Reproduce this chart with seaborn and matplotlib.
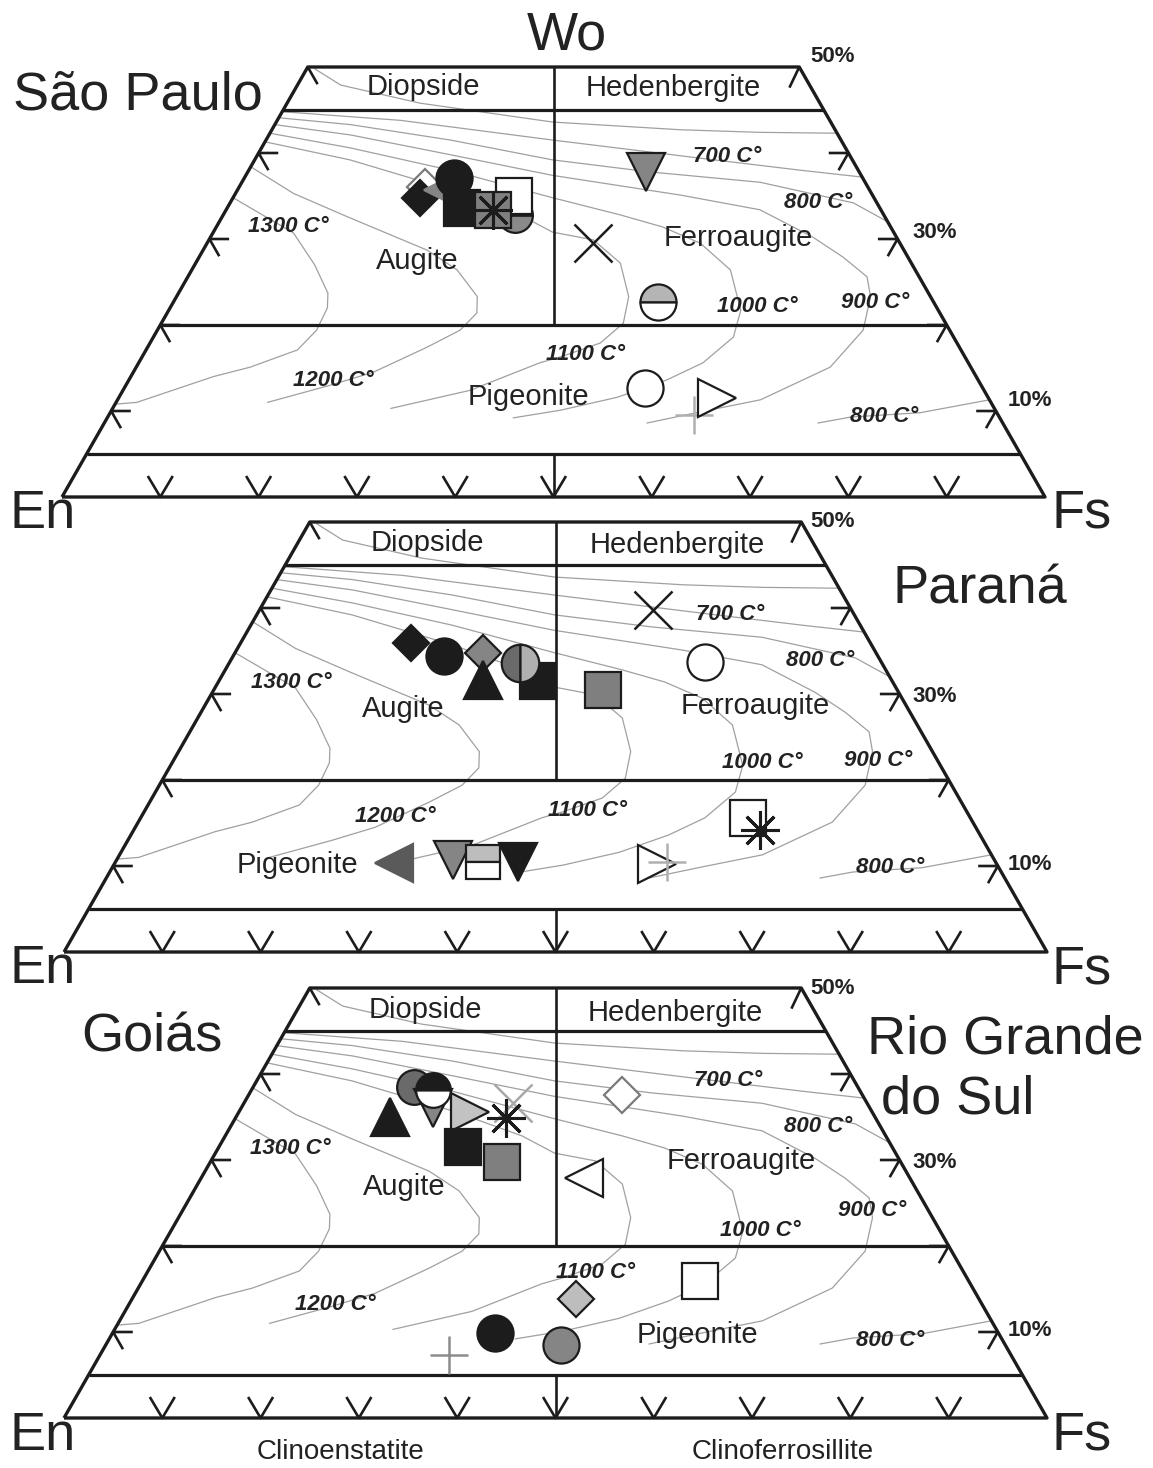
import matplotlib
matplotlib.use("Agg")
import matplotlib.pyplot as plt
import pandas as pd
import seaborn as sns

sns.set_theme(style="white")
plt.rcParams["font.family"] = ["Liberation Sans", "DejaVu Sans"]

# ---- isotherm template (Wo %, Fs %) ----
ISO_600_WO = [49.8, 47.9, 45.8, 43.6, 42.7, 42.4, 42.3]
ISO_600_FS = [0.8, 4.4, 13.5, 28.1, 41.6, 49.8, 57.7]
ISO_700_WO = [44.8, 43.8, 41.5, 39.4, 38.0, 37.2]
ISO_700_FS = [0.0, 12.5, 29.2, 45.2, 56.1, 62.8]
ISO_800A_WO = [44.1, 43.3, 41.5, 39.2, 37.8, 36.6, 34.2, 32.0]
ISO_800A_FS = [0.0, 7.7, 18.8, 30.3, 40.9, 52.7, 63.4, 68.0]
ISO_800B_WO = [8.6, 9.3, 9.8, 11.3]
ISO_800B_FS = [72.6, 75.6, 82.4, 88.7]
ISO_900_WO = [43.3, 42.1, 39.8, 37.4, 35.1, 33.4, 30.2, 27.9, 25.6, 23.3, 19.4, 15.1, 11.3, 9.9, 8.6]
ISO_900_FS = [0.0, 8.3, 19.6, 31.2, 45.4, 54.3, 61.3, 65.5, 69.1, 70.6, 71.8, 70.6, 65.4, 60.0, 55.2]
ISO_1000_WO = [42.3, 40.6, 38.0, 34.8, 32.8, 31.4, 29.5, 26.4, 21.7, 18.6, 15.6, 13.6, 11.6, 10.1, 9.2]
ISO_1000_FS = [0.0, 9.0, 20.5, 32.5, 40.4, 45.4, 50.2, 54.8, 58.2, 59.0, 57.4, 54.7, 50.7, 45.7, 41.3]
ISO_1100_WO = [41.3, 39.2, 35.7, 32.8, 30.8, 29.9, 27.2, 23.3, 20.2, 17.9, 16.3, 15.6, 12.4, 10.3]
ISO_1100_FS = [0.0, 9.7, 21.7, 30.2, 34.5, 39.1, 43.2, 46.0, 47.0, 45.8, 42.6, 40.8, 35.3, 28.3]
ISO_1200_WO = [38.4, 35.3, 32.6, 28.7, 26.4, 23.3, 21.4, 19.4, 17.4, 14.5, 13.0, 11.0]
ISO_1200_FS = [0.0, 5.9, 12.7, 22.8, 27.0, 30.6, 31.5, 30.8, 28.4, 24.4, 20.8, 15.4]
ISO_1300_WO = [34.8, 30.7, 27.0, 23.7, 22.0, 19.4, 17.1, 15.1, 14.0, 11.0, 10.8]
ISO_1300_FS = [0.0, 8.2, 12.2, 15.2, 16.0, 16.2, 15.4, 11.6, 8.4, 2.1, 0.0]

# ---- pyroxene analyses per state (symbol, Wo %, Fs %) ----
SP_SYMBOLS = ["dia_open", "dia_black", "tri_left_gray", "circ_black", "sq_black",
              "circ_half_bot", "sq_open", "sq_gray", "asterisk", "tri_down_gray",
              "x_black", "circ_half_top_lgray", "circ_open", "plus_lgray", "tri_right_open"]
SP_WO = [36.0, 34.8, 35.7, 37.1, 33.6, 32.8, 35.0, 33.4, 33.4, 37.8, 29.5, 22.7, 12.7, 9.5, 11.5]
SP_FS = [18.9, 19.0, 20.8, 21.3, 23.9, 29.7, 28.5, 27.1, 27.1, 40.5, 39.3, 49.3, 53.0, 59.5, 60.9]

PR_SYMBOLS = ["dia_black", "circ_black", "dia_gray", "tri_up_black", "sq_black",
              "circ_half_left", "sq_gray", "x_black", "circ_open", "sq_open", "asterisk",
              "tri_right_open", "plus_lgray", "tri_left_dgray", "tri_down_gray",
              "sq_half_top", "tri_down_black"]
PR_WO = [35.9, 34.4, 34.8, 31.6, 31.5, 33.6, 30.5, 39.8, 33.7, 15.6, 14.2,
         10.2, 10.5, 10.3, 10.7, 10.5, 10.5]
PR_FS = [17.3, 21.5, 25.2, 26.8, 32.5, 29.6, 39.6, 40.0, 48.4, 61.8, 63.7,
         55.2, 56.1, 28.4, 34.2, 37.4, 40.9]

GO_SYMBOLS = ["tri_up_black", "circ_dgray", "tri_down_gray", "circ_half_top_black",
              "tri_right_lgray", "x_lgray", "asterisk", "sq_black", "sq_gray",
              "dia_open", "tri_left_open", "sq_open", "dia_lgray", "circ_black",
              "circ_gray", "plus_gray"]
GO_WO = [35.0, 38.5, 36.0, 38.1, 35.6, 36.6, 34.9, 31.5, 29.8, 37.6, 27.9,
         15.9, 13.8, 9.9, 8.5, 7.3]
GO_FS = [15.7, 16.4, 19.5, 18.5, 23.5, 27.4, 27.5, 24.8, 29.7, 38.0, 38.9,
         56.7, 45.2, 38.9, 46.3, 35.5]

ISOTHERMS = {
    "600": (ISO_600_WO, ISO_600_FS), "700": (ISO_700_WO, ISO_700_FS),
    "800a": (ISO_800A_WO, ISO_800A_FS), "800b": (ISO_800B_WO, ISO_800B_FS),
    "900": (ISO_900_WO, ISO_900_FS), "1000": (ISO_1000_WO, ISO_1000_FS),
    "1100": (ISO_1100_WO, ISO_1100_FS), "1200": (ISO_1200_WO, ISO_1200_FS),
    "1300": (ISO_1300_WO, ISO_1300_FS),
}

BLACK = "#1c1c1c"
STYLES = {
    "dia_open": dict(marker="D", ms=18, mfc="white", mec="#7a7a7a"),
    "dia_black": dict(marker="D", ms=18, mfc=BLACK),
    "dia_gray": dict(marker="D", ms=18, mfc="#858585"),
    "dia_lgray": dict(marker="D", ms=18, mfc="#bdbdbd"),
    "tri_left_gray": dict(marker="<", ms=26, mfc="#858585", mec="#858585"),
    "tri_left_dgray": dict(marker="<", ms=27, mfc="#5a5a5a", mec="#5a5a5a"),
    "tri_left_open": dict(marker="<", ms=27, mfc="white"),
    "tri_right_open": dict(marker=">", ms=27, mfc="white"),
    "tri_right_lgray": dict(marker=">", ms=27, mfc="#c2c2c2"),
    "tri_up_black": dict(marker="^", ms=28, mfc=BLACK),
    "tri_down_gray": dict(marker="v", ms=28, mfc="#858585"),
    "tri_down_black": dict(marker="v", ms=27, mfc=BLACK),
    "circ_black": dict(marker="o", ms=26, mfc=BLACK),
    "circ_gray": dict(marker="o", ms=26, mfc="#858585"),
    "circ_dgray": dict(marker="o", ms=25, mfc="#6a6a6a"),
    "circ_open": dict(marker="o", ms=26, mfc="white"),
    "circ_half_bot": dict(marker="o", ms=25, mfc="#8a8a8a", mfcalt="white", fillstyle="bottom"),
    "circ_half_top_lgray": dict(marker="o", ms=26, mfc="#b5b5b5", mfcalt="white", fillstyle="top"),
    "circ_half_top_black": dict(marker="o", ms=25, mfc=BLACK, mfcalt="white", fillstyle="top"),
    "circ_half_left": dict(marker="o", ms=27, mfc="#6a6a6a", mfcalt="#b0b0b0", fillstyle="left"),
    "sq_black": dict(marker="s", ms=26, mfc=BLACK),
    "sq_gray": dict(marker="s", ms=26, mfc="#7f7f7f"),
    "sq_open": dict(marker="s", ms=26, mfc="white"),
    "sq_half_top": dict(marker="s", ms=25, mfc="#bdbdbd", mfcalt="white", fillstyle="top"),
    "asterisk": dict(marker=(8, 2, 0), ms=28, mec=BLACK, mew=2.2),
    "x_black": dict(marker="x", ms=27, mec=BLACK, mew=1.8),
    "x_lgray": dict(marker="x", ms=28, mec="#a8a8a8", mew=1.8),
    "plus_lgray": dict(marker="+", ms=28, mec="#b0b0b0", mew=1.8),
    "plus_gray": dict(marker="+", ms=28, mec="#8c8c8c", mew=1.8),
}

W_PX, H_PX = 1153, 1468
BASE_W, TOP_H = 983, 430  # base width, height of the 50 % Wo line (px)

fig = plt.figure(figsize=(W_PX / 100, H_PX / 100), dpi=100)


def fig_text(px, py, s, **kw):
    kw.setdefault("ha", "center")
    kw.setdefault("va", "center")
    kw.setdefault("color", "#222222")
    fig.text(px / W_PX, 1 - py / H_PX, s, **kw)


def seg(ax, xs, ys, lw=2.3, color=BLACK):
    ax.plot(xs, ys, color=color, lw=lw, clip_on=False, solid_capstyle="butt", zorder=3)


def draw_frame(ax):
    # outline and field boundaries (x = Fs + Wo/2, y = Wo)
    seg(ax, [0, 100, 75, 25, 0], [0, 0, 50, 50, 0], lw=2.4)
    for wo in (45, 20, 5):
        seg(ax, [wo / 2, 100 - wo / 2], [wo, wo])
    seg(ax, [50, 50], [20, 50], lw=1.9)
    seg(ax, [50, 50], [0, 5], lw=1.9)
    hx, dx, dy = 2.0, 1.0, 2.0
    for wo in (10, 20, 30, 40):
        xl, xr = wo / 2, 100 - wo / 2
        seg(ax, [xl + hx, xl, xl + dx], [wo, wo, wo - dy], lw=1.9)
        seg(ax, [xr - hx, xr, xr - dx], [wo, wo, wo - dy], lw=1.9)
    seg(ax, [25, 26.0], [50, 48.0], lw=1.9)
    seg(ax, [75, 74.0], [50, 47.6], lw=1.9)
    for fs in range(10, 100, 10):
        seg(ax, [fs - 1.27, fs, fs + 1.27], [2.44, 0, 2.44], lw=1.9)


def draw_isotherms(ax):
    rows = []
    for name, (wo, fs) in ISOTHERMS.items():
        for w, f in zip(wo, fs):
            rows.append({"curve": name, "x": f + w / 2, "wo": w})
    df = pd.DataFrame(rows)
    sns.lineplot(data=df, x="x", y="wo", units="curve", estimator=None, sort=False,
                 color="#a0a0a0", lw=0.9, legend=False, ax=ax)
    for ln in ax.lines:
        ln.set_clip_on(False)


def draw_points(ax, symbols, wo, fs):
    for i, (sym, w, f) in enumerate(zip(symbols, wo, fs)):
        st = dict(mec=BLACK, mew=1.6)
        st.update(STYLES[sym])
        ax.plot([f + w / 2], [w], linestyle="none", clip_on=False, zorder=5 + i * 0.1, **st)


PANELS = [(62, 497, SP_SYMBOLS, SP_WO, SP_FS),
          (64, 952, PR_SYMBOLS, PR_WO, PR_FS),
          (64, 1418, GO_SYMBOLS, GO_WO, GO_FS)]

for x0, base, syms, wo, fs in PANELS:
    ax = fig.add_axes([x0 / W_PX, (H_PX - base) / H_PX, BASE_W / W_PX, TOP_H / H_PX])
    draw_isotherms(ax)
    draw_frame(ax)
    draw_points(ax, syms, wo, fs)
    ax.set_xlim(0, 100)
    ax.set_ylim(0, 50)
    ax.axis("off")

# isotherm labels (per panel)
TEMP_LABELS = [
    [("1300", 288, 226), ("1200", 333, 380), ("1100", 585, 354), ("1000", 757, 307),
     ("900", 875, 303), ("800", 818, 203), ("700", 727, 157), ("800", 884, 417)],
    [("1300", 291, 683), ("1200", 395, 817), ("1100", 587, 811), ("1000", 762, 763),
     ("900", 878, 760), ("800", 820, 660), ("700", 730, 614), ("800", 890, 868)],
    [("1300", 290, 1148), ("1200", 335, 1305), ("1100", 595, 1273), ("1000", 760, 1230),
     ("900", 872, 1210), ("800", 818, 1126), ("700", 728, 1080), ("800", 890, 1340)],
]
for labels in TEMP_LABELS:
    for t, px, py in labels:
        fig_text(px, py, f"{t} C°", fontsize=16, fontweight="bold", fontstyle="italic")

# mineral field names
FIELD_LABELS = [
    [("Diopside", 423, 87), ("Hedenbergite", 673, 88), ("Augite", 417, 261),
     ("Ferroaugite", 738, 238), ("Pigeonite", 528, 397)],
    [("Diopside", 427, 543), ("Hedenbergite", 677, 545), ("Augite", 403, 709),
     ("Ferroaugite", 755, 706), ("Pigeonite", 297, 865)],
    [("Diopside", 425, 1010), ("Hedenbergite", 675, 1013), ("Augite", 404, 1187),
     ("Ferroaugite", 741, 1161), ("Pigeonite", 697, 1335)],
]
for labels in FIELD_LABELS:
    for s, px, py in labels:
        fig_text(px, py, s, fontsize=21)

# percent labels and end members
for dy in (0, 464, 931):
    fig_text(833, 57 + dy, "50%", fontsize=16, fontweight="bold")
    fig_text(935, 232 + dy, "30%", fontsize=16, fontweight="bold")
    fig_text(1030, 400 + dy, "10%", fontsize=16, fontweight="bold")
for py in (514, 969, 1436):
    fig_text(43, py, "En", fontsize=39)
    fig_text(1082, py, "Fs", fontsize=39)
fig_text(567, 35, "Wo", fontsize=39)

fig_text(138, 95, "São Paulo", fontsize=39)
fig_text(980, 590, "Paraná", fontsize=39)
fig_text(152, 1037, "Goiás", fontsize=39)
fig_text(1005, 1040, "Rio Grande", fontsize=39)
fig_text(958, 1100, "do Sul", fontsize=39)

fig_text(340, 1452, "Clinoenstatite", fontsize=20)
fig_text(783, 1452, "Clinoferrosillite", fontsize=20)

fig.savefig("out.png", dpi=100, facecolor="white")
